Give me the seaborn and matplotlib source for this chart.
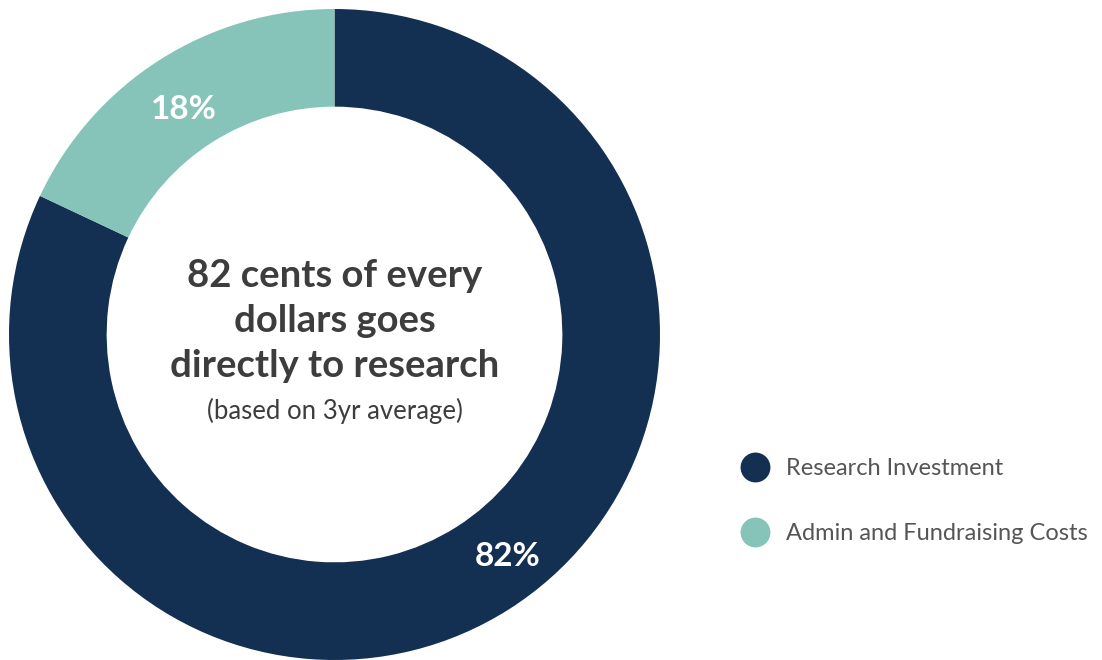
import numpy as np
import matplotlib
matplotlib.use("Agg")
import matplotlib.pyplot as plt
from matplotlib.lines import Line2D
import seaborn as sns

categories = ["Research Investment", "Admin and Fundraising Costs"]
values = [82, 18]
colors = ["#132F52", "#86C3B9"]
center_title = ["82 cents of every", "dollars goes", "directly to research"]
center_sub = "(based on 3yr average)"

sns.set_theme(style="white")
plt.rcParams['font.family'] = ['Lato', 'DejaVu Sans']

fig = plt.figure(figsize=(11.02, 6.6), dpi=100)
ax = fig.add_axes([9/1102, 0/660, 651/1102, 651/660])
wedges, _ = ax.pie(values, colors=colors, startangle=90, counterclock=False,
                   wedgeprops=dict(width=0.3, linewidth=0), radius=1.0)
ax.set_xlim(-1, 1); ax.set_ylim(-1, 1); ax.set_aspect('equal')
ax.axis('off')

# percentage labels (polar placement inside the ring)
label_pos = {0: (0.864, -52.1), 1: (0.831, 123.9)}
for i, w in enumerate(wedges):
    r, a = label_pos[i]
    ang = np.deg2rad(a)
    ax.text(r*np.cos(ang), r*np.sin(ang), f"{values[i]}%", color="white",
            fontsize=24, fontweight="bold", ha="center", va="center")

# center text
ys = [0.18, 0.042, -0.096]
for t, y in zip(center_title, ys):
    ax.text(0, y, t, ha="center", va="center", fontsize=27.5, fontweight="bold", color="#3d3d3d")
ax.text(0, -0.235, center_sub, ha="center", va="center", fontsize=18.5, color="#3d3d3d")

handles = [Line2D([0], [0], marker='o', linestyle='none', markersize=21.5,
                  markerfacecolor=c, markeredgewidth=0) for c in colors]
fig.legend(handles, categories, loc="center left", bbox_to_anchor=(720/1102, 1 - 501/660),
           frameon=False, labelspacing=1.87, handlelength=1.2, handletextpad=0.7,
           borderpad=0.4, labelcolor="#555555", prop={'weight': 'normal', 'size': 17})

fig.savefig("out.png", dpi=100)
